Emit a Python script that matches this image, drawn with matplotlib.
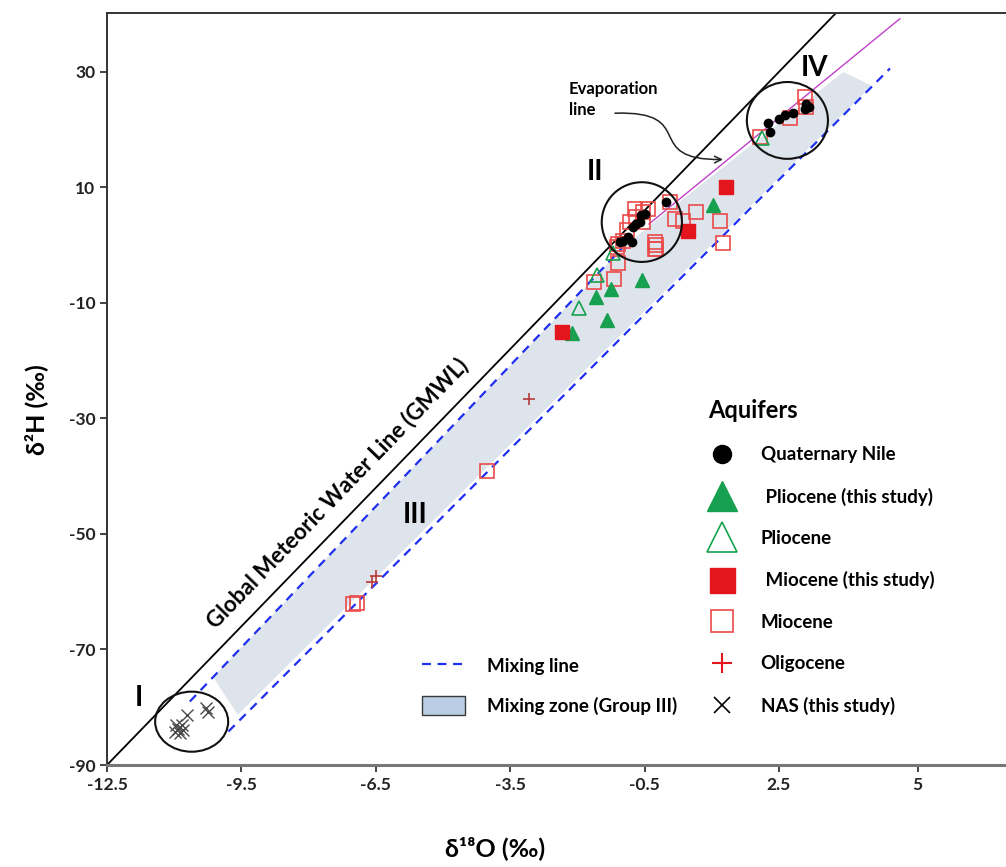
import matplotlib.pyplot as plt
from matplotlib.patches import Ellipse, Polygon, Patch, FancyArrowPatch
from matplotlib.lines import Line2D
from matplotlib.path import Path

plt.rcParams['font.family'] = ['Lato', 'DejaVu Sans']
plt.rcParams['font.weight'] = 'bold'
plt.rcParams['axes.unicode_minus'] = False

# ---- data (delta18O, delta2H) ----
nile_x = [-0.02, -0.49, -0.60, -0.75, -0.86, -0.98, -1.05, -0.79, -0.68, -0.57,
          2.25, 2.30, 2.51, 2.63, 2.81, 3.08, 3.17, 3.10]
nile_y = [7.5, 5.4, 4.0, 3.1, 1.4, 0.8, 0.5, 0.5, 3.7, 5.2,
          21.2, 19.6, 21.8, 22.5, 22.8, 23.6, 23.9, 24.5]

plio_study_x = [1.03, -0.56, -1.25, -1.58, -1.34, -2.12]
plio_study_y = [7.0, -6.0, -7.5, -9.0, -13.0, -15.2]

plio_x = [-1.55, -1.96, -1.20, 2.13]
plio_y = [-5.2, -10.8, -1.4, 18.6]

mio_study_x = [1.33, 0.48, -2.35]
mio_study_y = [10.0, 2.5, -15.0]

mio_x = [0.07, 0.18, -0.27, -0.27, -0.71, -0.68, -0.83, -0.90, -0.98, -1.09,
         -1.12, -0.53, -0.53, -0.42, 0.66, 0.35, 1.19, 1.26, -0.25, -0.25,
         -1.10, -1.18, -1.62, -4.01, -7.00, -6.91,
         2.08, 2.75, 3.10, 3.08]
mio_y = [7.5, 4.6, 0.5, -0.6, 6.3, 4.9, 4.0, 2.6, 0.8, 0.2,
         -0.3, 5.7, 4.0, 6.3, 5.8, 4.2, 4.2, 0.3, 0.1, -0.7,
         -3.1, -5.9, -6.3, -39.1, -62.1, -61.9,
         18.8, 22.1, 24.0, 25.6]

oligo_x = [-3.07, -6.50, -6.59]
oligo_y = [-26.6, -57.3, -58.3]

nas_x = [-10.91, -10.83, -10.72, -10.98, -10.87, -10.28, -10.24, -10.95, -10.80]
nas_y = [-83.7, -83.1, -81.3, -84.2, -84.5, -80.2, -80.8, -83.0, -84.0]

# reference lines
gmwl_x = [-12.5, 3.75]
mix_upper_x = [-10.65, -1.0]
mix_upper_y = [-79.0, -0.5]
mix_lower_x = [-9.79, 4.98]
mix_lower_y = [-84.2, 30.6]
evap_x = [-0.40, 5.2]
evap_y = [3.67, 39.2]
zone_x = [-10.13, -1.0, -0.45, 3.94, 4.57, -9.58]
zone_y = [-74.8, -0.6, 3.0, 30.0, 27.6, -81.3]

xticks = [-12.5, -9.5, -6.5, -3.5, -0.5, 2.5, 5.6]
xtick_labels = ['-12.5', '-9.5', '-6.5', '-3.5', '-0.5', '2.5', '5']
yticks = [30, 10, -10, -30, -50, -70, -90]

fig = plt.figure(figsize=(10.06, 8.67), dpi=100)
ax = fig.add_axes([107 / 1006, 102 / 867, 1 - 107 / 1006, 752 / 867])

ax.add_patch(Polygon(list(zip(zone_x, zone_y)), closed=True,
                     facecolor='#dee4ec', edgecolor='none', zorder=1))

ax.plot(gmwl_x, [8 * v + 10 for v in gmwl_x], color='black', lw=1.3, zorder=2)
ax.plot(mix_upper_x, mix_upper_y, color='#1f2ff0', lw=1.6, ls=(0, (4, 3)), zorder=2)
ax.plot(mix_lower_x, mix_lower_y, color='#1f2ff0', lw=1.6, ls=(0, (4, 3)), zorder=2)
ax.plot(evap_x, evap_y, color='#c040c8', lw=1.0, zorder=2)

red = '#e2161c'
red_open = '#ec4a4a'
green = '#17a04f'

ax.plot(mio_x, mio_y, ls='none', marker='s', ms=9.5, mfc='none', mec=red_open, mew=1.2, zorder=3)
ax.plot(nile_x, nile_y, ls='none', marker='o', ms=6, color='black', zorder=4)
ax.plot(plio_study_x, plio_study_y, ls='none', marker='^', ms=10, color=green, zorder=4)
ax.plot(plio_x, plio_y, ls='none', marker='^', ms=10, mfc='none', mec=green, mew=1.2, zorder=4)
ax.plot(mio_study_x, mio_study_y, ls='none', marker='s', ms=10.5, color=red, zorder=4)
ax.plot(oligo_x, oligo_y, ls='none', marker='+', ms=9, mew=1.2, color='#b83a3a', zorder=4)
ax.plot(nas_x, nas_y, ls='none', marker='x', ms=9, mew=1.0, color='#4a4a4a', zorder=4)

# group circles
for cx, cy, w, h in [(-0.56, 4.0, 1.79, 13.8), (2.69, 21.6, 1.81, 13.3), (-10.61, -82.5, 1.63, 10.4)]:
    ax.add_patch(Ellipse((cx, cy), w, h, fill=False, edgecolor='#111111', lw=1.5, zorder=5))

for txt, tx, ty in [('I', -11.79, -78.4), ('II', -1.61, 12.6), ('III', -5.63, -46.7), ('IV', 3.30, 30.6)]:
    ax.text(tx, ty, txt, fontsize=20, fontweight='bold', ha='center', va='center', zorder=6)

ax.text(-7.35, -42.9, 'Global Meteoric Water Line (GMWL)', fontsize=16, fontweight='bold',
        rotation=46, rotation_mode='anchor', ha='center', va='center')

ax.text(-2.19, 25.2, 'Evaporation\nline', fontsize=12, fontweight='bold',
        ha='left', va='center', linespacing=1.35)
arrow_path = Path([(-1.16, 22.85), (0.737, 23.32), (-0.603, 14.67), (1.25, 14.84)],
                  [Path.MOVETO, Path.CURVE4, Path.CURVE4, Path.CURVE4])
ax.add_patch(FancyArrowPatch(path=arrow_path, arrowstyle='->', mutation_scale=12,
                             lw=1.1, color='#222222', zorder=6))

ax.set_xlim(-12.5, 7.57)
ax.set_ylim(-90, 40.2)
ax.set_xticks(xticks)
ax.set_xticklabels(xtick_labels)
ax.set_yticks(yticks)
ax.tick_params(labelsize=12.5, direction='out', length=5, width=1.2, colors='#222222')
for lab in ax.get_xticklabels() + ax.get_yticklabels():
    lab.set_fontweight('bold')

ax.spines['right'].set_visible(False)
ax.spines['left'].set_linewidth(1.4)
ax.spines['left'].set_color('#333333')
ax.spines['top'].set_linewidth(1.4)
ax.spines['top'].set_color('#333333')
ax.spines['bottom'].set_linewidth(2.2)
ax.spines['bottom'].set_color('#777777')

ax.set_xlabel('δ¹⁸O (‰)', fontsize=18, fontweight='bold')
ax.set_ylabel('δ²H (‰)', fontsize=18, fontweight='bold')
ax.xaxis.set_label_coords(0.432, -0.095)
ax.yaxis.set_label_coords(-0.066, 0.472)

# legends
handles1 = [
    Line2D([], [], ls='none', marker='o', ms=13, color='black'),
    Line2D([], [], ls='none', marker='^', ms=21, color=green),
    Line2D([], [], ls='none', marker='^', ms=21, mfc='none', mec=green, mew=1.2),
    Line2D([], [], ls='none', marker='s', ms=18, color=red),
    Line2D([], [], ls='none', marker='s', ms=16, mfc='none', mec=red_open, mew=1.2),
    Line2D([], [], ls='none', marker='+', ms=15, mew=1.5, color=red),
    Line2D([], [], ls='none', marker='x', ms=11, mew=1.2, color='black'),
]
labels1 = ['Quaternary Nile', ' Pliocene (this study)', 'Pliocene', ' Miocene (this study)',
           'Miocene', 'Oligocene', 'NAS (this study)']
leg1 = ax.legend(handles1, labels1, title='Aquifers', loc='upper left',
                 bbox_to_anchor=(0.669, 0.487), frameon=False, fontsize=13.5,
                 title_fontproperties={'weight': 'bold', 'size': 17}, alignment='left',
                 handlelength=1.5, handletextpad=1.28, labelspacing=1.3,
                 borderpad=0, borderaxespad=0)
ax.add_artist(leg1)

handles2 = [Line2D([], [], color='#1f2ff0', lw=1.6, ls=(0, (4, 3))),
            Patch(facecolor='#b9cde5', edgecolor='#3a3a3a', lw=1.0)]
labels2 = ['Mixing line', 'Mixing zone (Group III)']
ax.legend(handles2, labels2, loc='upper left', bbox_to_anchor=(0.350, 0.145),
          frameon=False, fontsize=13.5, handlelength=2.3, handleheight=1.2,
          handletextpad=1.17, labelspacing=1.1, borderpad=0, borderaxespad=0)

fig.savefig('out.png', dpi=100)
